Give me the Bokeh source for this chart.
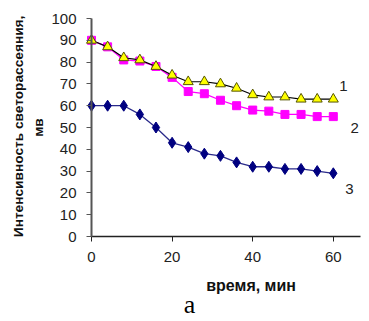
import math
from bokeh.plotting import figure
from bokeh.models import Range1d, FixedTicker, Label
from bokeh.embed import file_html
from bokeh.resources import INLINE

time_min = [0, 4, 8, 12, 16, 20, 24, 28, 32, 36, 40, 44, 48, 52, 56, 60]
series1 = [90, 87, 82, 81, 78, 74, 71, 71, 70, 68, 65, 64, 64, 63, 63, 63]
series2 = [90, 87, 81, 80.5, 78, 73, 66.5, 65.5, 62.5, 60, 58, 57.5, 56, 56, 55, 55]
series3 = [60, 60, 60, 56, 50, 43, 41, 38, 37, 34, 32, 32, 31, 31, 30, 29]
series_names = ["1", "2", "3"]
x_ticks = [0, 20, 40, 60]
y_ticks = [0, 10, 20, 30, 40, 50, 60, 70, 80, 90, 100]
y_title = "Интенсивность светорассеяния,"
y_unit = "мв"
x_title = "время, мин"
caption = "а"

W, H = 369, 321
# frame covers the whole canvas; axes are pinned at zero with fixed_location
p = figure(width=W, height=H, output_backend="svg", toolbar_location=None,
           x_range=Range1d(-22.58, 68.98), y_range=Range1d(-38.99, 108.26),
           min_border=0)
p.grid.visible = False
p.outline_line_color = None
p.background_fill_color = "white"
p.border_fill_color = "white"

FONT = "Liberation Sans"
for ax in (p.xaxis[0], p.yaxis[0]):
    ax.fixed_location = 0
    ax.major_label_text_font = FONT
    ax.major_label_text_font_size = "15px"
    ax.major_label_text_color = "#222222"
    ax.minor_tick_line_color = None
    ax.major_tick_in = 0
    ax.major_tick_out = 5

p.xaxis.ticker = FixedTicker(ticks=x_ticks)
p.yaxis.ticker = FixedTicker(ticks=y_ticks)
p.xaxis.bounds = (0, 66.75)
p.yaxis.bounds = (0, 100)
p.xaxis.axis_line_color = "#222222"
p.xaxis.axis_line_width = 1.5
p.xaxis.major_tick_line_color = "#222222"
p.xaxis.major_label_standoff = 10
p.yaxis.axis_line_color = "#555555"
p.yaxis.axis_line_width = 2
p.yaxis.major_tick_line_color = "#555555"
p.yaxis.major_label_standoff = 10

# series 3
p.line(time_min, series3, line_color="#2a2a8a", line_width=1.3)
p.scatter(time_min, series3, marker="diamond", size=11, fill_color="#000080", line_color="#000080")
# series 2
p.line(time_min, series2, line_color="#ff00ff", line_width=1.3)
p.scatter(time_min, series2, marker="square", size=8, fill_color="#ff00ff", line_color="#ff00ff")
# series 1
p.line(time_min, series1, line_color="#000000", line_width=1.2)
p.scatter(time_min, series1, marker="triangle", size=10, fill_color="#ffff00", line_color="#555500", line_width=1)

# series numbers
for name, (lx, ly) in zip(series_names, [(62.5, 69), (65.3, 50), (64.0, 22)]):
    p.add_layout(Label(x=lx, y=ly, text=name, text_font=FONT, text_font_size="15px",
                       text_color="#222222", text_align="center", text_baseline="middle"))

# axis titles and caption
p.add_layout(Label(x=-18.1, y=50.5, text=y_title, angle=math.pi / 2,
                   text_font=FONT, text_font_style="bold", text_font_size="13.7px",
                   text_color="#111111", text_align="center", text_baseline="middle"))
p.add_layout(Label(x=-13.15, y=50.0, text=y_unit, angle=math.pi / 2,
                   text_font=FONT, text_font_style="bold", text_font_size="13.7px",
                   text_color="#111111", text_align="center", text_baseline="middle"))
p.add_layout(Label(x=39.6, y=-22.5, text=x_title,
                   text_font=FONT, text_font_style="bold", text_font_size="16px",
                   text_color="#111111", text_align="center", text_baseline="middle"))
p.add_layout(Label(x=24.3, y=-38.0, text=caption,
                   text_font="Liberation Serif", text_font_size="26px",
                   text_color="#000000", text_align="center", text_baseline="bottom"))

open("out.html", "w").write(file_html(p, INLINE))
